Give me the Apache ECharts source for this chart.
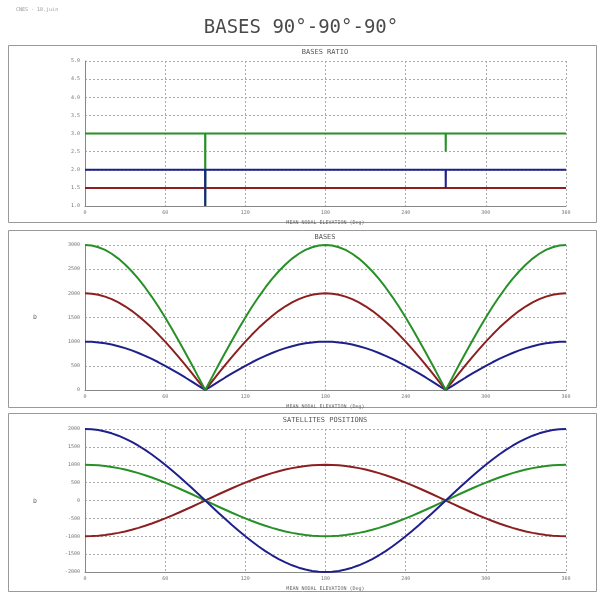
<!DOCTYPE html>
<html>
<head>
<meta charset="utf-8">
<script src="https://cdn.jsdelivr.net/npm/echarts@6/dist/echarts.min.js"></script>
<style>html,body{margin:0;padding:0;background:#fff}#c{width:602px;height:592px}</style>
</head>
<body>
<div id="c"></div>
<script>
// ---- data ----
const xTicks = [0, 60, 120, 180, 240, 300, 360];
// Panel 1: bases ratio
const ratioElev = [0, 89.9, 90, 90.1, 269.9, 270, 270.1, 360];
const ratioGreen = [3, 3, 1, 3, 3, 2.5, 3, 3];
const ratioBlue = [2, 2, 1, 2, 2, 1.5, 2, 2];
const ratioRed = [1.5, 1.5, 1.5, 1.5, 1.5, 1.5, 1.5, 1.5];
// Panels 2 and 3: sampled every 5 deg
const elev = [0,5,10,15,20,25,30,35,40,45,50,55,60,65,70,75,80,85,90,95,100,105,110,115,120,125,130,135,140,145,150,155,160,165,170,175,180,185,190,195,200,205,210,215,220,225,230,235,240,245,250,255,260,265,270,275,280,285,290,295,300,305,310,315,320,325,330,335,340,345,350,355,360];
const basesBlue = [1000,996,985,966,940,906,866,819,766,707,643,574,500,423,342,259,174,87,0,87,174,259,342,423,500,574,643,707,766,819,866,906,940,966,985,996,1000,996,985,966,940,906,866,819,766,707,643,574,500,423,342,259,174,87,0,87,174,259,342,423,500,574,643,707,766,819,866,906,940,966,985,996,1000];
const basesRed = [2000,1992,1970,1932,1879,1813,1732,1638,1532,1414,1286,1147,1000,845,684,518,347,174,0,174,347,518,684,845,1000,1147,1286,1414,1532,1638,1732,1813,1879,1932,1970,1992,2000,1992,1970,1932,1879,1813,1732,1638,1532,1414,1286,1147,1000,845,684,518,347,174,0,174,347,518,684,845,1000,1147,1286,1414,1532,1638,1732,1813,1879,1932,1970,1992,2000];
const basesGreen = [3000,2989,2954,2898,2819,2719,2598,2457,2298,2121,1928,1721,1500,1268,1026,776,521,261,0,261,521,776,1026,1268,1500,1721,1928,2121,2298,2457,2598,2719,2819,2898,2954,2989,3000,2989,2954,2898,2819,2719,2598,2457,2298,2121,1928,1721,1500,1268,1026,776,521,261,0,261,521,776,1026,1268,1500,1721,1928,2121,2298,2457,2598,2719,2819,2898,2954,2989,3000];
const posBlue = [2000,1992,1970,1932,1879,1813,1732,1638,1532,1414,1286,1147,1000,845,684,518,347,174,0,-174,-347,-518,-684,-845,-1000,-1147,-1286,-1414,-1532,-1638,-1732,-1813,-1879,-1932,-1970,-1992,-2000,-1992,-1970,-1932,-1879,-1813,-1732,-1638,-1532,-1414,-1286,-1147,-1000,-845,-684,-518,-347,-174,0,174,347,518,684,845,1000,1147,1286,1414,1532,1638,1732,1813,1879,1932,1970,1992,2000];
const posGreen = [1000,996,985,966,940,906,866,819,766,707,643,574,500,423,342,259,174,87,0,-87,-174,-259,-342,-423,-500,-574,-643,-707,-766,-819,-866,-906,-940,-966,-985,-996,-1000,-996,-985,-966,-940,-906,-866,-819,-766,-707,-643,-574,-500,-423,-342,-259,-174,-87,0,87,174,259,342,423,500,574,643,707,766,819,866,906,940,966,985,996,1000];
const posRed = [-1000,-996,-985,-966,-940,-906,-866,-819,-766,-707,-643,-574,-500,-423,-342,-259,-174,-87,0,87,174,259,342,423,500,574,643,707,766,819,866,906,940,966,985,996,1000,996,985,966,940,906,866,819,766,707,643,574,500,423,342,259,174,87,0,-87,-174,-259,-342,-423,-500,-574,-643,-707,-766,-819,-866,-906,-940,-966,-985,-996,-1000];

const mainTitle = 'BASES 90°-90°-90°';
const panelTitles = ['BASES RATIO', 'BASES', 'SATELLITES POSITIONS'];
const xName = 'MEAN NODAL ELEVATION (Deg)';
const yNames = ['', 'D', 'D'];
const corner = 'CNES - 18.juin';

// ---- styles ----
const GREEN = '#279027', RED = '#8c2020', BLUE = '#20208c';
const MONO = 'DejaVu Sans Mono';
const grids = [
  {left: 85, width: 481, top: 61, height: 145},
  {left: 85, width: 481, top: 245, height: 145},
  {left: 85, width: 481, top: 429, height: 144}
];
const yCfg = [
  {min: 1, max: 5, interval: 0.5, fmt: v => v.toFixed(1)},
  {min: 0, max: 3000, interval: 500, fmt: v => String(v)},
  {min: -2000, max: 2000, interval: 500, fmt: v => String(v)}
];
const zip = (xs, ys) => xs.map((x, i) => [x, ys[i]]);

const xAxis = grids.map((g, i) => ({
  type: 'value', gridIndex: i, min: 0, max: 360, interval: 60,
  name: xName, nameLocation: 'middle', nameGap: 14,
  nameTextStyle: {fontSize: 5, color: '#666', fontFamily: MONO},
  axisLine: {onZero: false, lineStyle: {color: '#888'}},
  axisTick: {show: false},
  axisLabel: {fontSize: 5, color: '#777', margin: 4, fontFamily: MONO},
  splitLine: {show: true, lineStyle: {color: '#aaa', type: [2, 2], width: 1}}
}));
const yAxis = grids.map((g, i) => ({
  type: 'value', gridIndex: i, min: yCfg[i].min, max: yCfg[i].max, interval: yCfg[i].interval,
  axisLine: {show: true, onZero: false, lineStyle: {color: '#888'}},
  axisTick: {show: false},
  axisLabel: {fontSize: 5, color: '#777', margin: 5, fontFamily: MONO, formatter: yCfg[i].fmt},
  splitLine: {show: true, lineStyle: {color: '#aaa', type: [2, 2], width: 1}}
}));

function line(i, xs, ys, color) {
  return {type: 'line', xAxisIndex: i, yAxisIndex: i, data: zip(xs, ys), showSymbol: false,
    lineStyle: {color: color, width: 2}, itemStyle: {color: color}, silent: true, animation: false};
}
const series = [
  line(0, ratioElev, ratioRed, RED),
  line(0, ratioElev, ratioGreen, GREEN),
  line(0, ratioElev, ratioBlue, BLUE),
  line(1, elev, basesBlue, BLUE),
  line(1, elev, basesRed, RED),
  line(1, elev, basesGreen, GREEN),
  line(2, elev, posRed, RED),
  line(2, elev, posGreen, GREEN),
  line(2, elev, posBlue, BLUE)
];

const boxes = [[45, 222], [230, 407], [413, 591]];
const graphic = [];
boxes.forEach((b, i) => {
  graphic.push({type: 'rect', shape: {x: 8.5, y: b[0] + 0.5, width: 588, height: b[1] - b[0]},
    style: {fill: 'none', stroke: '#999', lineWidth: 1}, silent: true});
  graphic.push({type: 'text', x: 325, y: b[0] + 7, style: {text: panelTitles[i], fontSize: 7,
    fontFamily: MONO, fill: '#555', textAlign: 'center', textVerticalAlign: 'middle'}});
  if (yNames[i]) {
    const g = grids[i];
    graphic.push({type: 'text', x: 35, y: g.top + g.height / 2, style: {text: yNames[i], fontSize: 6,
      fontFamily: MONO, fill: '#555', textAlign: 'center', textVerticalAlign: 'middle'}});
  }
});
graphic.push({type: 'text', x: 301, y: 28, style: {text: mainTitle, fontSize: 19, fontFamily: MONO,
  fill: '#4a4a4a', textAlign: 'center', textVerticalAlign: 'middle'}});
graphic.push({type: 'text', x: 16, y: 10, style: {text: corner, fontSize: 5, fontFamily: MONO,
  fill: '#999', textAlign: 'left', textVerticalAlign: 'middle'}});

const chart = echarts.init(document.getElementById('c'), null, {renderer: 'canvas'});
chart.setOption({
  animation: false,
  backgroundColor: '#fff',
  grid: grids,
  xAxis: xAxis,
  yAxis: yAxis,
  series: series,
  graphic: graphic
});
</script>
</body>
</html>
